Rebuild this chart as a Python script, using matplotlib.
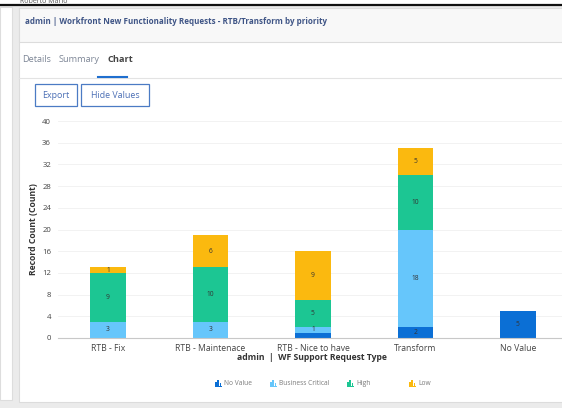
import matplotlib
matplotlib.use("Agg")
import matplotlib.pyplot as plt
from matplotlib.patches import Rectangle
import numpy as np

plt.rcParams['font.family'] = ['Open Sans', 'DejaVu Sans']

categories = ["RTB - Fix", "RTB - Maintenace", "RTB - Nice to have", "Transform", "No Value"]
series_names = ["No Value", "Business Critical", "High", "Low"]
no_value = [0, 0, 1, 2, 5]
business_critical = [3, 3, 1, 18, 0]
high = [9, 10, 5, 10, 0]
low = [1, 6, 9, 5, 0]
yticks = [0, 4, 8, 12, 16, 20, 24, 28, 32, 36, 40]
colors = ["#0b6fd5", "#66c6fb", "#1cc693", "#fbb90f"]

W, H = 562, 408
fig = plt.figure(figsize=(W / 100, H / 100), dpi=100)
fig.patch.set_facecolor("#ebebeb")

bg = fig.add_axes([0, 0, 1, 1], zorder=0)
bg.set_xlim(0, W)
bg.set_ylim(H, 0)
bg.axis("off")

def rect(x0, y0, x1, y1, fc, ec="none", lw=0.8, z=1):
    bg.add_patch(Rectangle((x0, y0), x1 - x0, y1 - y0, facecolor=fc, edgecolor=ec, linewidth=lw, zorder=z))

# top strip
rect(0, 0, W, 5, "#ffffff")
bg.text(20, 1.5, "Roberto Mario", fontsize=5, color="#555555", va="center", ha="left", zorder=2)
bg.plot([0, W], [5, 5], color="#111111", lw=1.6, zorder=3)
# left panel
rect(0, 7, 12, 400, "#ffffff", ec="#dddddd")
# main card
rect(19, 8, W + 5, 402, "#ffffff", ec="#dcdcdc")
rect(19, 8, W + 5, 42, "#f8f8f8", ec="#dcdcdc")
bg.plot([19, W], [78, 78], color="#e3e3e3", lw=0.8, zorder=2)
bg.text(25, 21, "admin | Workfront New Functionality Requests - RTB/Transform by priority",
        fontsize=5.75, fontweight="bold", color="#3f5586", va="center", ha="left", zorder=3)
# tabs
bg.text(22, 60, "Details", fontsize=6.6, color="#7d8696", va="center", ha="left", zorder=3)
bg.text(59, 60, "Summary", fontsize=6.6, color="#7d8696", va="center", ha="left", zorder=3)
bg.text(108, 60, "Chart", fontsize=6.6, fontweight="bold", color="#444444", va="center", ha="left", zorder=3)
bg.plot([98, 127], [76.5, 76.5], color="#1f6fcf", lw=1.5, zorder=3)
# buttons
rect(35, 84, 77, 106, "#ffffff", ec="#4b7bc4", lw=0.9, z=2)
rect(81, 84, 149, 106, "#ffffff", ec="#4b7bc4", lw=0.9, z=2)
bg.text(56, 95.5, "Export", fontsize=6.4, color="#4b6fb5", va="center", ha="center", zorder=3)
bg.text(115, 95.5, "Hide Values", fontsize=6.4, color="#4b6fb5", va="center", ha="center", zorder=3)

# legend
leg_items = [(215, "No Value"), (270, "Business Critical"), (347, "High"), (409, "Low")]
for (lx, name), c in zip(leg_items, colors):
    for dx, hgt in [(0, 4.5), (2.3, 6.5), (4.6, 3)]:
        rect(lx + dx, 386 - hgt, lx + dx + 1.6, 386, c, z=3)
    rect(lx, 385.6, lx + 7, 386.6, c, z=3)
    bg.text(lx + 9, 383.5, name, fontsize=4.8, color="#7a7a7a", va="center", ha="left", zorder=3)

# chart axes
x_left, x_right, y_top, y_bot = 58, W, 121, 338
ax = fig.add_axes([x_left / W, 1 - y_bot / H, (x_right - x_left) / W, (y_bot - y_top) / H], zorder=1)
ax.patch.set_alpha(0)
x = np.arange(len(categories))
bottom = np.zeros(len(categories))
last_label = {}
for vals, c in zip([no_value, business_critical, high, low], colors):
    vals = np.array(vals, dtype=float)
    ax.bar(x, vals, width=0.35, bottom=bottom, color=c, zorder=2)
    for xi, v, b in zip(x, vals, bottom):
        if v > 0:
            yc = b + v / 2
            prev = last_label.get(xi)
            if prev is not None and abs(yc - prev[0]) < 1.5:
                prev[1].remove()  # hide overlapping label, as the chart does
            t = ax.text(xi, yc, f"{int(v)}", ha="center", va="center", fontsize=4.8, color="#333333", zorder=3)
            last_label[xi] = (yc, t)
    bottom += vals

ax.set_xlim(-0.488, 4.43)
ax.set_ylim(0, 40)
ax.set_yticks(yticks)
ax.set_yticklabels([str(t) for t in yticks], fontsize=5.6, color="#444444")
ax.set_xticks(x)
ax.set_xticklabels(categories, fontsize=6.2, color="#444444")
ax.tick_params(axis="both", length=0, pad=5)
ax.tick_params(axis="x", pad=4)
ax.grid(axis="y", color="#f0f0f0", lw=0.6, zorder=0)
for s in ["top", "right", "left"]:
    ax.spines[s].set_visible(False)
ax.spines["bottom"].set_color("#c8c8c8")
ax.spines["bottom"].set_linewidth(0.8)
ax.set_ylabel("Record Count (Count)", fontsize=6.2, fontweight="bold", color="#333333", labelpad=3)
ax.text((312 - x_left) / (x_right - x_left), -(358 - y_bot) / (y_bot - y_top), "admin  |  WF Support Request Type",
        transform=ax.transAxes, fontsize=6.2, fontweight="bold", color="#333333", ha="center", va="center")

fig.savefig("out.png", dpi=100, facecolor=fig.get_facecolor())
